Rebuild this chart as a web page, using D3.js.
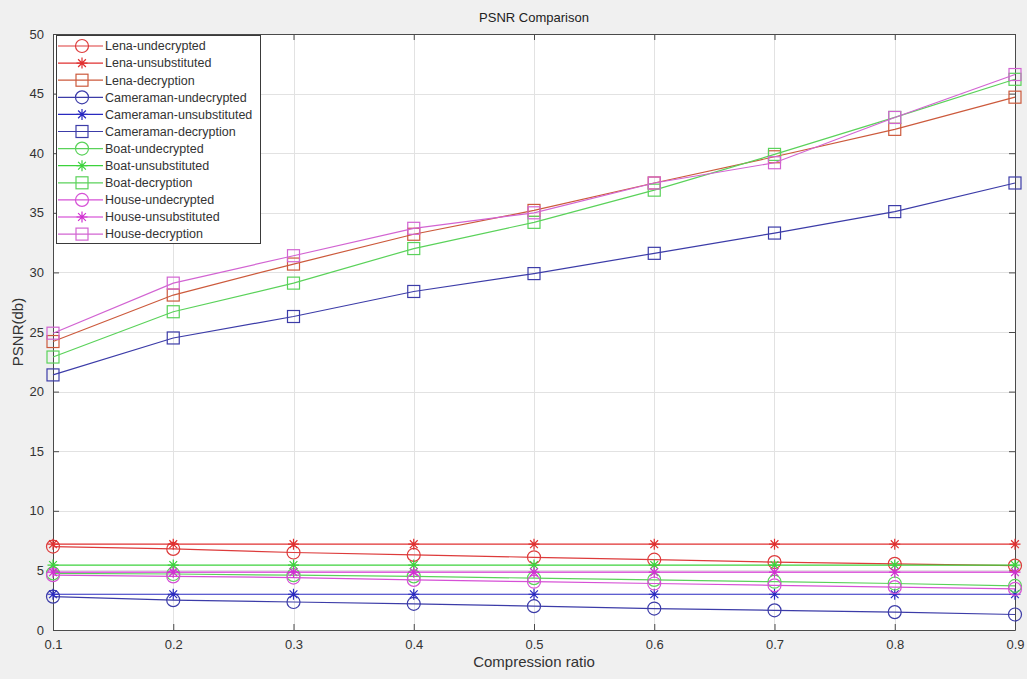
<!DOCTYPE html>
<html>
<head>
<meta charset="utf-8">
<script src="https://cdn.jsdelivr.net/npm/d3@7"></script>
<style>
html,body{margin:0;padding:0;background:#f0f0f0;}
svg{display:block;font-family:"Liberation Sans",Arial,sans-serif;}
</style>
</head>
<body>
<svg id="chart" width="1027" height="679"></svg>
<script>
// ---- data ----
const compressionRatio = [0.1, 0.2, 0.3, 0.4, 0.5, 0.6, 0.7, 0.8, 0.9];
const xTickLabels = ["0.1","0.2","0.3","0.4","0.5","0.6","0.7","0.8","0.9"];
const yTicks = [0, 5, 10, 15, 20, 25, 30, 35, 40, 45, 50];

const lenaUndecrypted      = [7.0, 6.8, 6.5, 6.3, 6.1, 5.9, 5.7, 5.55, 5.4];
const lenaUnsubstituted    = [7.2, 7.2, 7.2, 7.2, 7.2, 7.2, 7.2, 7.2, 7.2];
const lenaDecryption       = [24.2, 28.1, 30.7, 33.2, 35.2, 37.5, 39.7, 42.0, 44.7];
const cameraUndecrypted    = [2.8, 2.5, 2.35, 2.2, 2.0, 1.8, 1.65, 1.5, 1.3];
const cameraUnsubstituted  = [3.0, 3.0, 3.0, 3.0, 3.0, 3.0, 3.0, 3.0, 3.0];
const cameraDecryption     = [21.4, 24.5, 26.3, 28.4, 29.9, 31.6, 33.3, 35.1, 37.5];
const boatUndecrypted      = [4.75, 4.7, 4.6, 4.5, 4.35, 4.2, 4.05, 3.9, 3.7];
const boatUnsubstituted    = [5.45, 5.45, 5.45, 5.45, 5.45, 5.45, 5.45, 5.45, 5.45];
const boatDecryption       = [22.9, 26.7, 29.1, 32.0, 34.2, 36.9, 39.9, 43.0, 46.2];
const houseUndecrypted     = [4.6, 4.5, 4.4, 4.2, 4.05, 3.9, 3.75, 3.6, 3.45];
const houseUnsubstituted   = [4.85, 4.85, 4.85, 4.85, 4.85, 4.85, 4.85, 4.85, 4.85];
const houseDecryption      = [24.9, 29.1, 31.4, 33.7, 35.0, 37.5, 39.2, 43.0, 46.6];

const seriesNames = [
  "Lena-undecrypted","Lena-unsubstituted","Lena-decryption",
  "Cameraman-undecrypted","Cameraman-unsubstituted","Cameraman-decryption",
  "Boat-undecrypted","Boat-unsubstituted","Boat-decryption",
  "House-undecrypted","House-unsubstituted","House-decryption"
];
const seriesValues = [
  lenaUndecrypted, lenaUnsubstituted, lenaDecryption,
  cameraUndecrypted, cameraUnsubstituted, cameraDecryption,
  boatUndecrypted, boatUnsubstituted, boatDecryption,
  houseUndecrypted, houseUnsubstituted, houseDecryption
];
const seriesMarkers = ["circle","star","square","circle","star","square","circle","star","square","circle","star","square"];
const seriesColors = ["#dd3b3b","#e03030","#cc5a3c","#3c3ca8","#2a2ac0","#3c3ca8","#5ad25a","#3cd23c","#5ad25a","#d650d6","#d030d0","#d264d2"];

// ---- layout ----
const svg = d3.select("#chart");
const W = 1027, H = 679;
const pL = 53, pR = 1015, pT = 34, pB = 630;

const x = d3.scaleLinear().domain([0.1, 0.9]).range([pL, pR]);
const y = d3.scaleLinear().domain([0, 50]).range([pB, pT]);

svg.append("rect").attr("x",0).attr("y",0).attr("width",W).attr("height",H).attr("fill","#f0f0f0");
svg.append("rect").attr("x",pL).attr("y",pT).attr("width",pR-pL).attr("height",pB-pT).attr("fill","#ffffff");

// grid
const grid = svg.append("g").attr("stroke","#e2e2e2").attr("stroke-width",1);
compressionRatio.forEach(v => {
  grid.append("line").attr("x1",Math.round(x(v))+0.5).attr("x2",Math.round(x(v))+0.5).attr("y1",pT).attr("y2",pB);
});
yTicks.forEach(v => {
  grid.append("line").attr("x1",pL).attr("x2",pR).attr("y1",Math.round(y(v))+0.5).attr("y2",Math.round(y(v))+0.5);
});

// axes
const xAxis = d3.axisBottom(x).tickValues(compressionRatio).tickFormat((d,i)=>xTickLabels[i]).tickSizeInner(-6).tickSizeOuter(0).tickPadding(10);
const yAxis = d3.axisLeft(y).tickValues(yTicks).tickFormat(d3.format("d")).tickSizeInner(-6).tickSizeOuter(0).tickPadding(9);
const gx = svg.append("g").attr("transform",`translate(0,${pB})`).call(xAxis);
const gy = svg.append("g").attr("transform",`translate(${pL},0)`).call(yAxis);
[gx, gy].forEach(g => {
  g.select(".domain").attr("stroke","#4a4a4a");
  g.selectAll(".tick line").attr("stroke","#4a4a4a");
  g.selectAll(".tick text").attr("fill","#333").attr("font-size",13).attr("font-family","Liberation Sans, Arial, sans-serif");
});
const gxTop = svg.append("g").attr("transform",`translate(0,${pT})`).call(d3.axisTop(x).tickValues(compressionRatio).tickFormat("").tickSizeInner(-6).tickSizeOuter(0));
const gyRight = svg.append("g").attr("transform",`translate(${pR},0)`).call(d3.axisRight(y).tickValues(yTicks).tickFormat("").tickSizeInner(-6).tickSizeOuter(0));
[gxTop, gyRight].forEach(g => {
  g.select(".domain").attr("stroke","#4a4a4a");
  g.selectAll(".tick line").attr("stroke","#4a4a4a");
});

// marker drawer
function drawMarker(g, type, cx, cy, color) {
  if (type === "circle") {
    g.append("circle").attr("cx",cx).attr("cy",cy).attr("r",6.5).attr("fill","none").attr("stroke",color).attr("stroke-width",1.2);
  } else if (type === "square") {
    g.append("rect").attr("x",cx-6).attr("y",cy-6).attr("width",12).attr("height",12).attr("fill","none").attr("stroke",color).attr("stroke-width",1.2);
  } else {
    const r = 5.5, d = r*0.7071;
    g.append("path").attr("d",`M${cx-r},${cy}L${cx+r},${cy}M${cx},${cy-r}L${cx},${cy+r}M${cx-d},${cy-d}L${cx+d},${cy+d}M${cx-d},${cy+d}L${cx+d},${cy-d}`)
      .attr("stroke",color).attr("stroke-width",1.2).attr("fill","none");
  }
}

// lines + markers
const line = d3.line().x((d,i)=>x(compressionRatio[i])).y(d=>y(d));
const plot = svg.append("g");
seriesValues.forEach((vals, s) => {
  plot.append("path").attr("d", line(vals)).attr("fill","none").attr("stroke",seriesColors[s]).attr("stroke-width",1.2);
  vals.forEach((v,i) => drawMarker(plot, seriesMarkers[s], x(compressionRatio[i]), y(v), seriesColors[s]));
});

// legend
const lg = svg.append("g");
const lgX = 56, lgY = 35, lgW = 204, lgH = 208, rowH = 17.1, row0 = 46;
lg.append("rect").attr("x",lgX+0.5).attr("y",lgY+0.5).attr("width",lgW).attr("height",lgH).attr("fill","#ffffff").attr("stroke","#3a3a3a").attr("stroke-width",1);
seriesNames.forEach((name, s) => {
  const yy = row0 + s*rowH;
  lg.append("line").attr("x1",lgX+2).attr("x2",lgX+47).attr("y1",yy).attr("y2",yy).attr("stroke",seriesColors[s]).attr("stroke-width",1.2);
  drawMarker(lg, seriesMarkers[s], lgX+26, yy, seriesColors[s]);
  lg.append("text").attr("x",lgX+49).attr("y",yy).attr("dy","0.35em").attr("font-size",12.5).attr("fill","#333").text(name);
});

// titles
svg.append("text").attr("x",(pL+pR)/2).attr("y",22).attr("text-anchor","middle").attr("font-size",13).attr("fill","#222").text("PSNR Comparison");
svg.append("text").attr("x",(pL+pR)/2).attr("y",667).attr("text-anchor","middle").attr("font-size",15).attr("fill","#333").text("Compression  ratio");
svg.append("text").attr("transform",`translate(23,${(pT+pB)/2}) rotate(-90)`).attr("text-anchor","middle").attr("font-size",15).attr("fill","#333").text("PSNR(db)");
</script>
</body>
</html>
